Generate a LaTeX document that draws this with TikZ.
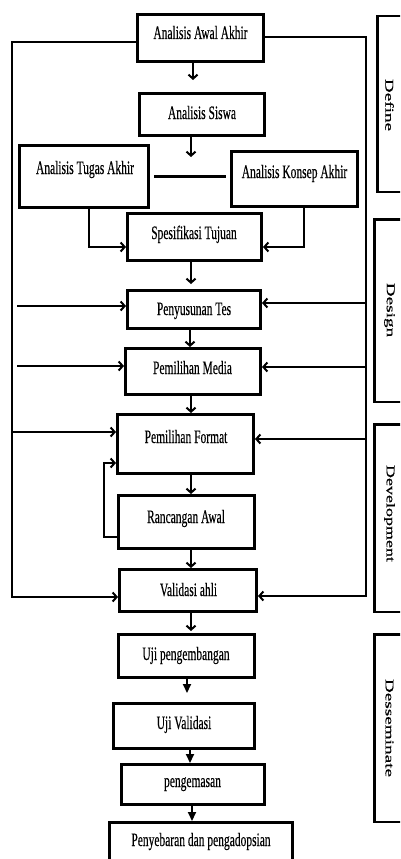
\documentclass[tikz,border=0pt]{standalone}
\usepackage{fontspec}
\setmainfont[FakeBold=0.5]{Liberation Serif}
\usetikzlibrary{arrows.meta,calc}
\newcommand{\mtxt}[1]{\scalebox{1}[1.65]{#1}}
\newcommand{\rtxt}[2]{\scalebox{#1}[1]{#2}}
\begin{document}
\begin{tikzpicture}[x={(1pt,0)},y={(0,-1pt)},
  box/.style={draw, line width=3pt, inner sep=0pt, rectangle},
  lbl/.style={inner sep=0pt, anchor=base, font=\fontsize{11.5}{13}\selectfont},
  con/.style={line width=2pt},
  arr/.style={con, -{Straight Barb[length=4pt,width=9pt,line width=2pt]}},
  tri/.style={con, -{Triangle[length=9pt,width=8pt]}},
  side/.style={draw, line width=2.5pt, inner sep=0pt, rectangle},
  slbl/.style={inner sep=0pt, rotate=-90, font=\fontsize{12}{14}\selectfont},
]
\useasboundingbox (0,0) rectangle (400,859);
\clip (0,0) rectangle (400,859);

% main boxes
\node[box, minimum width=126pt, minimum height=47pt] (awal) at (200.5,38) {};
\node[lbl] (tawal) at (200.5,39) {\mtxt{Analisis Awal Akhir}};
\node[box, minimum width=125pt, minimum height=42pt] (siswa) at (202,114.5) {};
\node[lbl] (tsiswa) at (202,119) {\mtxt{Analisis Siswa}};
\node[box, minimum width=129pt, minimum height=62pt] (tugas) at (84,176.5) {};
\node[lbl] (ttugas) at (85,174) {\mtxt{Analisis Tugas Akhir}};
\node[box, minimum width=126pt, minimum height=55pt] (konsep) at (294.5,179) {};
\node[lbl] (tkonsep) at (294.5,178) {\mtxt{Analisis Konsep Akhir}};
\node[box, minimum width=134pt, minimum height=47pt] (spes) at (194.5,237) {};
\node[lbl] (tspes) at (194,239) {\mtxt{Spesifikasi Tujuan}};
\node[box, minimum width=133pt, minimum height=38pt] (pen) at (194,309.5) {};
\node[lbl] (tpen) at (194,315) {\mtxt{Penyusunan Tes}};
\node[box, minimum width=135pt, minimum height=46pt] (media) at (193,371.5) {};
\node[lbl] (tmedia) at (192.5,374) {\mtxt{Pemilihan Media}};
\node[box, minimum width=136pt, minimum height=59pt] (format) at (185.5,444) {};
\node[lbl] (tformat) at (186,443) {\mtxt{Pemilihan Format}};
\node[box, minimum width=136pt, minimum height=53pt] (ranc) at (186.5,522) {};
\node[lbl] (tranc) at (186,523) {\mtxt{Rancangan Awal}};
\node[box, minimum width=137pt, minimum height=42pt] (valid) at (188,590.5) {};
\node[lbl] (tvalid) at (188.5,596) {\mtxt{Validasi ahli}};
\node[box, minimum width=136pt, minimum height=43pt] (ujip) at (186.5,656) {};
\node[lbl] (tujip) at (186,660) {\mtxt{Uji pengembangan}};
\node[box, minimum width=141pt, minimum height=45pt] (ujiv) at (184,726) {};
\node[lbl] (tujiv) at (184,729) {\mtxt{Uji Validasi}};
\node[box, minimum width=143pt, minimum height=40pt] (kemas) at (193,784.5) {};
\node[lbl] (tkemas) at (192.5,787) {\mtxt{pengemasan}};
\node[box, minimum width=183pt, minimum height=56pt] (sebar) at (201,850.5) {};
\node[lbl] (tsebar) at (201,846) {\mtxt{Penyebaran dan pengadopsian}};

% side phase boxes
\node[side, minimum width=42pt, minimum height=175.5pt] (pdef) at (398.6,104) {};
\node[slbl] (ldef) at (389.5,105) {\rtxt{1.6}{Define}};
\node[side, minimum width=45pt, minimum height=182.5pt] (pdes) at (397,310.5) {};
\node[slbl] (ldes) at (389.5,310) {\rtxt{1.6}{Design}};
\node[side, minimum width=45pt, minimum height=187.5pt] (pdev) at (397,518) {};
\node[slbl] (ldev) at (389.5,513.5) {\rtxt{1.5}{Development}};
\node[side, minimum width=45pt, minimum height=187.5pt] (pdis) at (397,728) {};
\node[slbl] (ldis) at (389.5,728) {\rtxt{1.6}{Desseminate}};

% outer feedback lines
\coordinate (L1) at (12,42);
\coordinate (L2) at (12,597);
\draw[arr] (awal.west |- L1) -- (L1) -- (L2) -- (valid.west |- L2);
\coordinate (R1) at (366,37);
\coordinate (R2) at (366,596);
\draw[arr] (awal.east |- R1) -- (R1) -- (R2) -- (valid.east |- R2);

% side arrows
\coordinate (LP) at (17,306);
\draw[arr] (LP) -- (pen.west |- LP);
\coordinate (LM) at (17,366);
\draw[arr] (LM) -- (media.west |- LM);
\coordinate (LF) at (12,432);
\draw[arr] (LF) -- (format.west |- LF);
\coordinate (RP) at (366,303);
\draw[arr] (RP) -- (pen.east |- RP);
\coordinate (RM) at (366,367);
\draw[arr] (RM) -- (media.east |- RM);
\coordinate (RF) at (366,439);
\draw[arr] (RF) -- (format.east |- RF);

% tugas / konsep into spesifikasi
\coordinate (T1) at (89,247);
\draw[arr] (tugas.south -| T1) -- (T1) -- (spes.west |- T1);
\coordinate (K1) at (304,247);
\draw[arr] (konsep.south -| K1) -- (K1) -- (spes.east |- K1);
\draw[line width=3.5pt] ([xshift=4pt]tugas.east) -- ([xshift=-4pt]tugas.east -| konsep.west);

% loop rancangan -> format
\coordinate (Q1) at (104,537);
\coordinate (Q2) at (104,463);
\draw[arr] (ranc.west |- Q1) -- (Q1) -- (Q2) -- (format.west |- Q2);

% vertical flow
\coordinate (vA) at (193,0);
\coordinate (vB) at (191,0);
\coordinate (vC) at (190,0);
\coordinate (vD) at (187,0);
\coordinate (vE) at (192,0);
\coordinate (S1) at (191,157);
\draw[arr, shorten >=12pt] (awal.south -| vA) -- (siswa.north -| vA);
\draw[arr] (siswa.south -| S1) -- (S1);
\draw[arr, shorten >=5pt] (spes.south -| vB) -- (pen.north -| vB);
\draw[arr] (pen.south -| vC) -- (media.north -| vC);
\draw[arr] (media.south -| vB) -- (format.north -| vB);
\draw[arr] (format.south -| vB) -- (ranc.north -| vB);
\draw[arr] (ranc.south -| vB) -- (valid.north -| vB);
\draw[arr, shorten >=2pt] (valid.south -| vB) -- (ujip.north -| vB);
\draw[tri, shorten >=9pt] (ujip.south -| vD) -- (ujiv.north -| vD);
\draw[tri] (ujiv.south -| vC) -- (kemas.north -| vC);
\draw[tri] (kemas.south -| vE) -- (sebar.north -| vE);
\end{tikzpicture}
\end{document}
